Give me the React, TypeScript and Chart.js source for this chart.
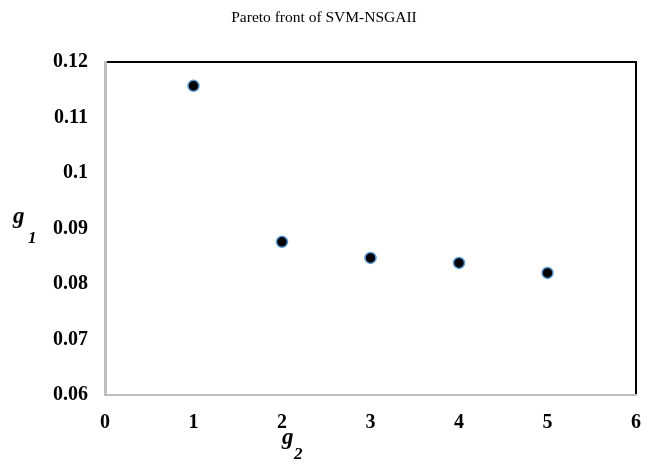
import React, { useEffect, useRef } from "react";
import { Chart, registerables } from "chart.js";

Chart.register(...registerables);

const xValues = [1, 2, 3, 4, 5];
const yValues = [0.1157, 0.0876, 0.0847, 0.0838, 0.082];
const titleText = "Pareto front of SVM-NSGAII";

const SERIF = "'Liberation Serif', 'Times New Roman', serif";

const framePlugin = {
  id: "frame",
  beforeDraw(chart: any) {
    const { ctx, chartArea } = chart;
    ctx.save();
    ctx.fillStyle = "#ffffff";
    ctx.fillRect(0, 0, chart.width, chart.height);
    ctx.strokeStyle = "#000000";
    ctx.lineWidth = 2;
    ctx.strokeRect(chartArea.left, chartArea.top, chartArea.right - chartArea.left, chartArea.bottom - chartArea.top);
    ctx.restore();
  },
  afterDraw(chart: any) {
    const { ctx } = chart;
    ctx.save();
    ctx.fillStyle = "#000000";
    ctx.textBaseline = "alphabetic";
    // title
    ctx.font = `15.5px ${SERIF}`;
    ctx.textAlign = "center";
    ctx.fillText(titleText, 324, 22);
    // y axis title g1
    ctx.textAlign = "left";
    ctx.font = `italic bold 23px ${SERIF}`;
    ctx.fillText("g", 13, 223);
    ctx.font = `italic bold 17px ${SERIF}`;
    ctx.fillText("1", 28, 243);
    // x axis title g2
    ctx.font = `italic bold 23px ${SERIF}`;
    ctx.fillText("g", 282, 444);
    ctx.font = `italic bold 17px ${SERIF}`;
    ctx.fillText("2", 294, 459);
    ctx.restore();
  },
};

export default function App() {
  const ref = useRef<HTMLCanvasElement | null>(null);
  useEffect(() => {
    document.body.style.margin = "0";
    if (!ref.current) return;
    const chart = new Chart(ref.current, {
      type: "scatter",
      data: {
        datasets: [
          {
            data: xValues.map((x, i) => ({ x, y: yValues[i] })),
            backgroundColor: "#000000",
            borderColor: "#5b9bd5",
            borderWidth: 1.5,
            pointRadius: 5.5,
            pointHoverRadius: 5.5,
          },
        ],
      },
      options: {
        animation: false,
        responsive: false,
        maintainAspectRatio: false,
        layout: { padding: { top: 62, right: 13, bottom: 0, left: 0 } },
        plugins: {
          legend: { display: false },
          title: { display: false },
          tooltip: { enabled: false },
        },
        scales: {
          x: {
            type: "linear",
            min: 0,
            max: 6,
            afterFit(scale: any) {
              scale.height = 71;
              scale.paddingRight = 0;
              scale.paddingLeft = 0;
            },
            grid: { display: false, drawTicks: false },
            border: { display: true, color: "#bfbfbf", width: 2 },
            ticks: {
              stepSize: 1,
              padding: 16,
              color: "#000000",
              font: { family: SERIF, size: 20, weight: "bold" },
            },
          },
          y: {
            type: "linear",
            min: 0.06,
            max: 0.12,
            afterFit(scale: any) {
              scale.width = 105;
              scale.paddingTop = 0;
              scale.paddingBottom = 0;
            },
            grid: { display: false, drawTicks: false },
            border: { display: true, color: "#bfbfbf", width: 3 },
            ticks: {
              stepSize: 0.01,
              padding: 17,
              color: "#000000",
              font: { family: SERIF, size: 20, weight: "bold" },
              callback: (v: any) => String(Math.round(Number(v) * 100) / 100),
            },
          },
        },
      },
      plugins: [framePlugin],
    });
    return () => chart.destroy();
  }, []);
  return (
    <div style={{ width: 649, height: 466 }}>
      <canvas ref={ref} width={649} height={466} style={{ display: "block" }} />
    </div>
  );
}
